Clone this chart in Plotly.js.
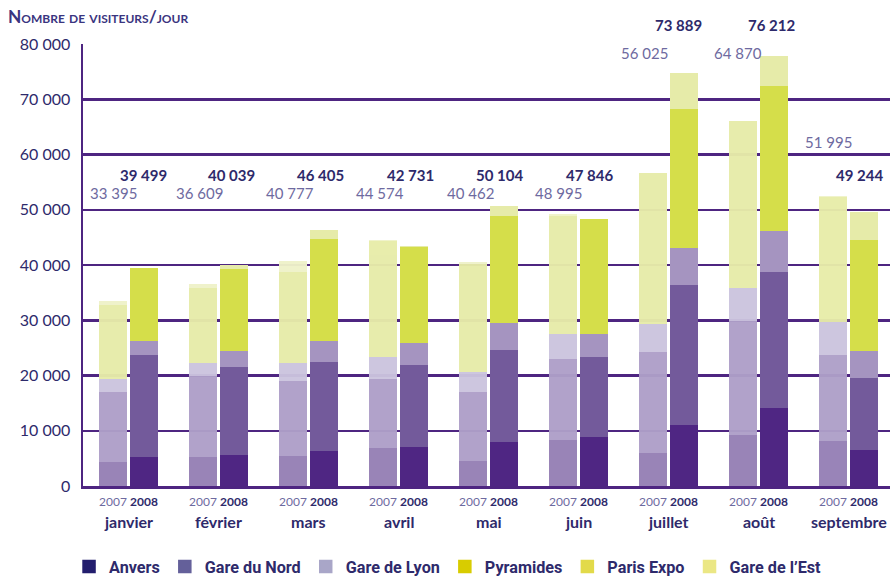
<!DOCTYPE html>
<html>
<head>
<meta charset="utf-8">
<script src="https://cdn.plot.ly/plotly-3.0.1.min.js"></script>
<style>html,body{margin:0;padding:0;background:#fff;}#chart{width:890px;height:577px;}</style>
</head>
<body>
<div id="chart"></div>
<script>
// ---- data ----
const months = ['janvier','février','mars','avril','mai','juin','juillet','août','septembre'];
const years = ['2007','2008'];
const stations = ['Anvers','Gare du Nord','Gare de Lyon','Pyramides','Paris Expo','Gare de l\u2019Est'];

const total2007 = [33395, 36609, 40777, 44574, 40462, 48995, 56025, 64870, 51995];
const total2008 = [39499, 40039, 46405, 42731, 50104, 47846, 73889, 76212, 49244];

const anvers2007    = [4270, 5180, 5360, 6860, 4580, 8370, 5960, 9160, 8070];
const gareNord2007  = [12660, 14770, 13560, 12540, 12480, 14650, 18380, 20730, 15670];
const gareLyon2007  = [2470, 2350, 3380, 3980, 3560, 4520, 5000, 6020, 6030];
const pyramides2007 = [13380, 13620, 16510, 20920, 19590, 21360, 27240, 30200, 22530];
const parisExpo2007 = [0, 0, 0, 0, 0, 0, 0, 0, 0];
const gareEst2007   = [620, 690, 1970, 270, 260, 400, 0, 0, 250];

const anvers2008    = [5180, 5660, 6270, 6990, 8010, 8910, 11080, 14160, 6570];
const gareNord2008  = [18560, 15910, 16210, 14950, 16640, 14470, 25310, 24530, 12960];
const gareLyon2008  = [2530, 2890, 3800, 3980, 4820, 4160, 6690, 7470, 4940];
const pyramides2008 = [13230, 14880, 18440, 17290, 19460, 20790, 25140, 26220, 20060];
const parisExpo2008 = [0, 0, 0, 0, 0, 0, 0, 0, 0];
const gareEst2008   = [0, 690, 1700, 240, 1750, 0, 6450, 5420, 5000];

const yTicks = [0, 10000, 20000, 30000, 40000, 50000, 60000, 70000, 80000];

// ---- styling ----
const series2007 = [anvers2007, gareNord2007, gareLyon2007, pyramides2007, parisExpo2007, gareEst2007];
const series2008 = [anvers2008, gareNord2008, gareLyon2008, pyramides2008, parisExpo2008, gareEst2008];
const colors2007 = ['#957fb5', '#ae9fc8', '#cbc4de', '#e7eca9', '#e7eca9', '#eff2c9'];
const colors2008 = ['#4f2683', '#735a9b', '#a594c0', '#d5de4a', '#d5de4a', '#e6eba9'];
const legendColors = ['#231e6e', '#64609a', '#a9a6c8', '#d8cc00', '#e2da4a', '#ebe785'];
const purple = '#4e2581';
const navy = '#2e2a6b';
const soft = '#6e6aa0';
const FONT = 'Lato, "Open Sans", sans-serif';

const fmt = n => String(n).replace(/\B(?=(\d{3})+(?!\d))/g, ' ');

const OFF = 0.172, BW = 0.311;
const pos2007 = months.map((m, i) => i - OFF);
const pos2008 = months.map((m, i) => i + OFF);

const traces = [];
stations.forEach((s, k) => {
  traces.push({type: 'bar', name: s, x: pos2007, y: series2007[k], width: BW,
    marker: {color: colors2007[k], line: {width: 0}}, opacity: 0.96,
    showlegend: false, legendgroup: s, hoverinfo: 'skip'});
});
stations.forEach((s, k) => {
  traces.push({type: 'bar', name: s, x: pos2008, y: series2008[k], width: BW,
    marker: {color: colors2008[k], line: {width: 0}},
    showlegend: false, legendgroup: s, hoverinfo: 'skip'});
});
stations.forEach((s, k) => {
  traces.push({type: 'bar', name: s, x: [null], y: [null],
    marker: {color: legendColors[k], line: {width: 1.5, color: legendColors[k]}},
    showlegend: true, legendgroup: s});
});

// label rows (pixel rows from top of the picture), converted to paper coords
const H = 577, T = 44, B = 91, PH = H - T - B;
const pxToPaper = px => (H - B - px) / PH;
const row2007 = [193, 193, 193, 193, 193, 193, 53, 53, 141.5];
const row2008 = [175, 175, 175, 175, 175, 175, 25, 25, 175];
const shift2007 = [0, -4, -3, -3, -3, -5, -9, -5, -5];
const shift2008 = [0, -2, -3, -3, -4, -4, -5, -2, -4];

const annotations = [];
months.forEach((m, i) => {
  annotations.push({xref: 'x', yref: 'paper', x: i, y: 0, yshift: -35, yanchor: 'middle',
    text: '<b>' + m + '</b>', showarrow: false,
    font: {family: FONT, size: 16, color: navy}});
  annotations.push({xref: 'x', yref: 'paper', x: pos2007[i], xshift: shift2007[i], y: pxToPaper(row2007[i]), yanchor: 'middle',
    text: fmt(total2007[i]), showarrow: false, font: {family: FONT, size: 15, color: soft}});
  annotations.push({xref: 'x', yref: 'paper', x: pos2008[i], xshift: shift2008[i], y: pxToPaper(row2008[i]), yanchor: 'middle',
    text: '<b>' + fmt(total2008[i]) + '</b>', showarrow: false, font: {family: FONT, size: 15, color: navy}});
});

const tickvals = [], ticktext = [];
months.forEach((m, i) => {
  tickvals.push(pos2007[i]); ticktext.push('<span style="color:' + soft + '">' + years[0] + '</span>');
  tickvals.push(pos2008[i]); ticktext.push('<b>' + years[1] + '</b>');
});

const layout = {
  width: 890, height: 577,
  margin: {l: 83, r: 0, t: T, b: B, pad: 0, autoexpand: false},
  paper_bgcolor: '#fff', plot_bgcolor: '#fff',
  barmode: 'stack', bargap: 0,
  hovermode: false,
  title: {text: 'Nombre de visiteurs/jour', xref: 'container', yref: 'container',
    x: 8 / 890, xanchor: 'left', y: 1 - 17 / 577, yanchor: 'middle',
    font: {family: FONT, size: 17.3, weight: 700, variant: 'small-caps', color: '#3a3580'}},
  xaxis: {range: [-0.5056, 8.461], tickvals: tickvals, ticktext: ticktext,
    tickfont: {family: FONT, size: 12, color: navy}, ticks: '', ticklabelstandoff: 3,
    showgrid: false, zeroline: false, showline: true, linecolor: purple, linewidth: 3, fixedrange: true},
  yaxis: {range: [0, 80000], tickvals: yTicks, ticktext: yTicks.map(fmt),
    tickfont: {family: FONT, size: 16, color: navy}, ticks: '', ticklabelstandoff: 7,
    showgrid: true, gridcolor: purple, gridwidth: 2.5, zeroline: false,
    showline: true, linecolor: purple, linewidth: 2.5, fixedrange: true},
  legend: {orientation: 'h', x: -0.0173, xanchor: 'left', y: pxToPaper(567), yanchor: 'middle',
    font: {family: 'Roboto, sans-serif', size: 16.2, weight: 700, color: navy},
    traceorder: 'normal', bgcolor: 'rgba(0,0,0,0)'},
  annotations: annotations
};

Plotly.newPlot('chart', traces, layout, {displayModeBar: false, staticPlot: true});
</script>
</body>
</html>
